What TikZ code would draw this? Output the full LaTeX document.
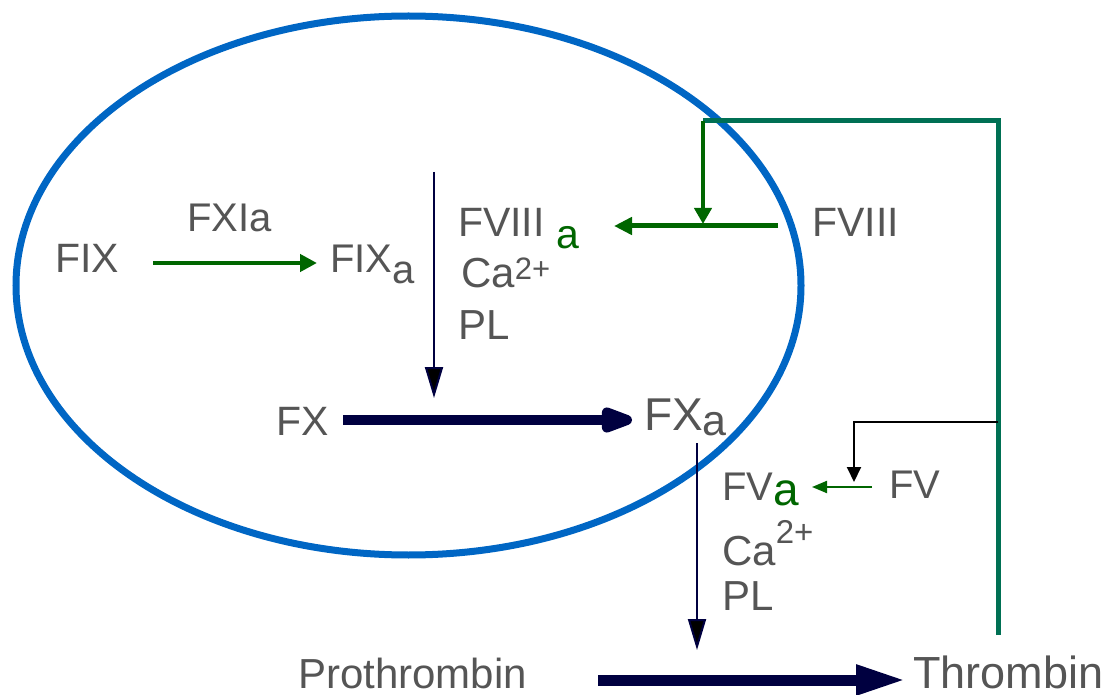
\documentclass[tikz,border=0pt]{standalone}
\usepackage{fontspec}
\setmainfont{Liberation Sans}
\usetikzlibrary{arrows.meta}
\definecolor{txt}{RGB}{85,85,85}
\definecolor{grn}{RGB}{0,102,0}
\definecolor{tealline}{RGB}{0,112,84}
\definecolor{navyline}{RGB}{0,0,64}
\definecolor{ring}{RGB}{0,102,196}
\newcommand{\fsz}[1]{\fontsize{#1}{#1}\selectfont}
\begin{document}
\begin{tikzpicture}[x=1pt,y=-1pt,
  lbl/.style={anchor=base west,inner sep=0pt,text=txt},
  greenarrow/.style={draw=grn,line width=#1},
  thinnavy/.style={draw=navyline,line width=2pt,-{Triangle[length=31pt,width=18pt,fill=black]}},
  thicknavy/.style={draw=navyline,line width=#1}]
\useasboundingbox (0,0) rectangle (1120,695);
% ellipse
\draw[ring,line width=7pt] (408.5,285.5) ellipse [x radius=392.5, y radius=269.5];
% labels
\node[lbl,font=\fsz{41}] (fix) at (55,273) {FIX};
\node[lbl,font=\fsz{40}] (fxia) at (187,232) {FXIa};
\node[lbl,font=\fsz{40}] (fixa) at (330,273) {FIX\raisebox{-10pt}{a}};
\node[lbl,font=\fsz{41}] (fviiia) at (458,237) {FVIII \textcolor{grn}{\raisebox{-12pt}{a}}};
\node[lbl,font=\fsz{42}] (ca1) at (461,288) {Ca\raisebox{9pt}{\fsz{31}2+}};
\node[lbl,font=\fsz{42}] (pl1) at (458,340) {PL};
\node[lbl,font=\fsz{41}] (fx) at (276,435) {FX};
\node[lbl,font=\fsz{46}] (fxa) at (644,430) {FX\raisebox{-5pt}{\fsz{43}a}};
\node[lbl,font=\fsz{40}] (fva) at (722,500) {FV\textcolor{grn}{\raisebox{-5pt}{\fsz{46}a}}};
\node[lbl,font=\fsz{42}] (ca2) at (722,565) {Ca\raisebox{22pt}{\fsz{33}2+}};
\node[lbl,font=\fsz{42}] (pl2) at (722,610) {PL};
\node[lbl,font=\fsz{40}] (fv) at (889,498) {FV};
\node[lbl,font=\fsz{41}] (fviii) at (812,237) {FVIII};
\node[lbl,font=\fsz{42},text depth=0pt] (pro) at (298,688) {Prothrombin};
\node[lbl,font=\fsz{45},text depth=0pt] (thr) at (913,688) {Thrombin};
% connector end points
\coordinate (fixout) at (153,263);
\coordinate (fixain) at (317,263);
\coordinate (v1top) at (434,172);
\coordinate (v1bot) at (434,398);
\coordinate (fxout) at (343,420);
\coordinate (fxain) at (632,420);
\coordinate (v2top) at (697,443);
\coordinate (v2bot) at (697,650);
\coordinate (proout) at (598,680);
\coordinate (thrin) at (906,680);
\coordinate (tbot) at (998,635);
\coordinate (tcorner) at (998,121);
\coordinate (tleft) at (703,121);
\coordinate (fbdown) at (703,224);
\coordinate (fviiiout) at (778,226);
\coordinate (fviiiain) at (614,226);
\coordinate (bstart) at (998,422);
\coordinate (bcorner) at (854,422);
\coordinate (bend) at (854,482);
\coordinate (fvout) at (872,487);
\coordinate (fvain) at (812,487);
% connectors
\draw[greenarrow=4.5pt,-{Triangle[length=17pt,width=17pt]}] (fixout) -- (fixain);
\draw[thinnavy] (v1top) -- (v1bot);
\draw[thicknavy=10pt,-{Triangle[length=42pt,width=26pt,round]}] (fxout) -- (fxain);
\draw[thinnavy] (v2top) -- (v2bot);
\draw[thicknavy=11pt,-{Triangle[length=50pt,width=28pt]}] (proout) -- (thrin);
\draw[draw=tealline,line width=5pt] (tbot) -- (tcorner) -- (tleft);
\draw[greenarrow=4pt,-{Triangle[length=16pt,width=17pt]}] (tleft) -- (fbdown);
\draw[greenarrow=5pt,-{Triangle[length=18pt,width=17pt]}] (fviiiout) -- (fviiiain);
\draw[black,line width=2pt,-{Triangle[length=15pt,width=14pt]}] (bstart) -- (bcorner) -- (bend);
\draw[greenarrow=2pt,-{Triangle[length=15pt,width=12pt]}] (fvout) -- (fvain);
\end{tikzpicture}
\end{document}
